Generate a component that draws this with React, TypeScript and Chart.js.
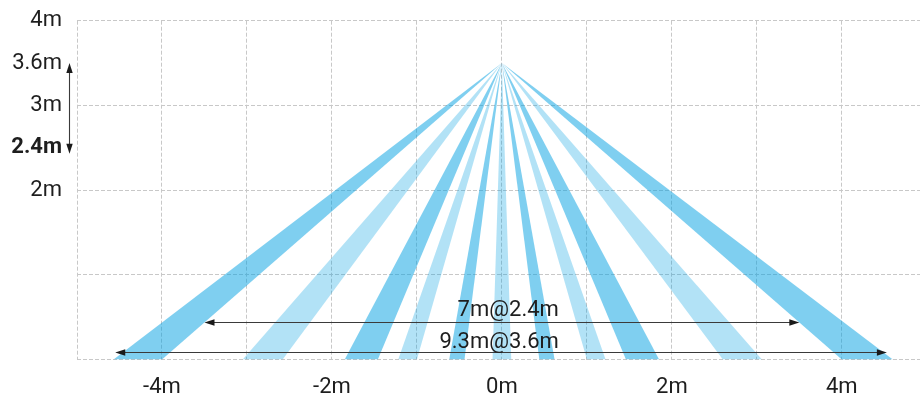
import React, { useEffect, useRef } from 'react';
import { Chart, registerables } from 'chart.js';

Chart.register(...registerables);

// ---- data ----
const xTickValues = [-5, -4, -3, -2, -1, 0, 1, 2, 3, 4];
const xTickLabels = ['', '-4m', '', '-2m', '', '0m', '', '2m', '', '4m'];
const yTickValues = [0, 1, 2, 2.5, 3, 3.5, 4];
const yTickLabels = ['', '', '2m', '2.4m', '3m', '3.6m', '4m'];

const sensorX = 0;
const sensorY = 3.5;
const beamLeft = [-4.57, -3.05, -1.85, -1.22, -0.62, -0.11, 0.44, 1.0, 1.46, 2.6, 4.0];
const beamRight = [-4.0, -2.58, -1.46, -1.0, -0.44, 0.11, 0.62, 1.22, 1.85, 3.06, 4.6];
const beamShade = ['dark', 'light', 'dark', 'light', 'dark', 'light', 'dark', 'light', 'dark', 'light', 'dark'];

const spanLabels = ['7m@2.4m', '9.3m@3.6m'];
const spanFrom = [-3.5, -4.55];
const spanTo = [3.5, 4.53];
const spanLevel = [0.44, 0.085];
const spanLabelLevel = [0.51, 0.131];
const spanLabelRight = 0.67;

const heightArrowX = -5.1;
const heightArrowTop = 3.5;
const heightArrowBottom = 2.43;

const shadeColor: Record<string, string> = {
  dark: 'rgba(0, 160, 225, 0.5)',
  light: 'rgba(0, 160, 225, 0.3)',
};

const FONT = 'Roboto';

function arrowHead(ctx: CanvasRenderingContext2D, tx: number, ty: number, dx: number, dy: number) {
  const len = 10;
  const half = 3.2;
  const bx = tx - dx * len;
  const by = ty - dy * len;
  ctx.beginPath();
  ctx.moveTo(tx, ty);
  ctx.lineTo(bx - dy * half, by + dx * half);
  ctx.lineTo(bx + dy * half, by - dx * half);
  ctx.closePath();
  ctx.fill();
}

const dimensionPlugin = {
  id: 'dimensions',
  afterDatasetsDraw(chart: any) {
    const { ctx } = chart;
    const x = chart.scales.x;
    const y = chart.scales.y;
    ctx.save();
    ctx.strokeStyle = '#3a3a3a';
    ctx.fillStyle = '#1a1a1a';
    ctx.lineWidth = 1.1;
    for (let i = 0; i < spanLabels.length; i++) {
      const x1 = x.getPixelForValue(spanFrom[i]);
      const x2 = x.getPixelForValue(spanTo[i]);
      const py = Math.round(y.getPixelForValue(spanLevel[i])) + 0.5;
      ctx.beginPath();
      ctx.moveTo(x1 + 6, py);
      ctx.lineTo(x2 - 6, py);
      ctx.stroke();
      arrowHead(ctx, x1, py, -1, 0);
      arrowHead(ctx, x2, py, 1, 0);
    }
    // vertical height arrow
    const vx = Math.round(x.getPixelForValue(heightArrowX)) + 0.5;
    const vt = y.getPixelForValue(heightArrowTop);
    const vb = y.getPixelForValue(heightArrowBottom);
    ctx.beginPath();
    ctx.moveTo(vx, vt + 6);
    ctx.lineTo(vx, vb - 6);
    ctx.stroke();
    arrowHead(ctx, vx, vt, 0, -1);
    arrowHead(ctx, vx, vb, 0, 1);

    ctx.fillStyle = '#1e1e1e';
    ctx.font = `22px ${FONT}`;
    ctx.textAlign = 'right';
    ctx.textBaseline = 'alphabetic';
    for (let i = 0; i < spanLabels.length; i++) {
      ctx.fillText(spanLabels[i], x.getPixelForValue(spanLabelRight), y.getPixelForValue(spanLabelLevel[i]));
    }
    ctx.restore();
  },
};

export default function App() {
  const canvasRef = useRef<HTMLCanvasElement | null>(null);

  useEffect(() => {
    document.body.style.margin = '0';
    const canvas = canvasRef.current;
    if (!canvas) return;

    const datasets = beamLeft.map((l, i) => ({
      type: 'line' as const,
      data: [
        { x: l, y: 0 },
        { x: sensorX, y: sensorY },
        { x: beamRight[i], y: 0 },
      ],
      fill: 'shape' as any,
      backgroundColor: shadeColor[beamShade[i]],
      borderColor: 'transparent',
      borderWidth: 0,
      pointRadius: 0,
      pointHoverRadius: 0,
      tension: 0,
    }));

    const chart = new Chart(canvas, {
      type: 'line',
      data: { datasets },
      plugins: [dimensionPlugin],
      options: {
        animation: false,
        responsive: false,
        maintainAspectRatio: false,
        layout: { padding: { top: 20.7, right: 0, left: 0, bottom: 0 } },
        plugins: {
          legend: { display: false },
          tooltip: { enabled: false },
        },
        scales: {
          x: {
            type: 'linear',
            min: -5,
            max: 4.92,
            afterBuildTicks: (scale: any) => {
              scale.ticks = xTickValues.map((v) => ({ value: v }));
            },
            afterFit: (scale: any) => {
              scale.height = 38.5;
            },
            border: { display: false, dash: [4, 2] },
            grid: { color: '#c8c8c8', drawTicks: false, lineWidth: 1 },
            ticks: {
              autoSkip: false,
              maxRotation: 0,
              padding: 15,
              color: '#1e1e1e',
              font: { family: FONT, size: 22 },
              callback: (_v: any, i: number) => xTickLabels[i],
            },
          },
          y: {
            type: 'linear',
            min: 0,
            max: 4,
            afterBuildTicks: (scale: any) => {
              scale.ticks = yTickValues.map((v) => ({ value: v }));
            },
            afterFit: (scale: any) => {
              scale.width = 77;
              scale.paddingTop = 0;
              scale.paddingBottom = 0;
            },
            border: { display: false, dash: [4, 2] },
            grid: {
              drawTicks: false,
              lineWidth: 1,
              color: (ctx: any) =>
                ctx.tick && Number.isInteger(ctx.tick.value) ? '#c8c8c8' : 'transparent',
            },
            ticks: {
              autoSkip: false,
              padding: 15,
              color: '#1e1e1e',
              font: (ctx: any) => ({
                family: FONT,
                size: 22,
                weight: ctx.tick && ctx.tick.value === 2.5 ? 'bold' : 'normal',
              }),
              callback: (_v: any, i: number) => yTickLabels[i],
            },
          },
        },
      } as any,
    });

    return () => chart.destroy();
  }, []);

  return (
    <div style={{ position: 'absolute', left: 0, top: 0, width: 920, height: 398 }}>
      <canvas ref={canvasRef} width={920} height={398} style={{ width: 920, height: 398 }} />
    </div>
  );
}
